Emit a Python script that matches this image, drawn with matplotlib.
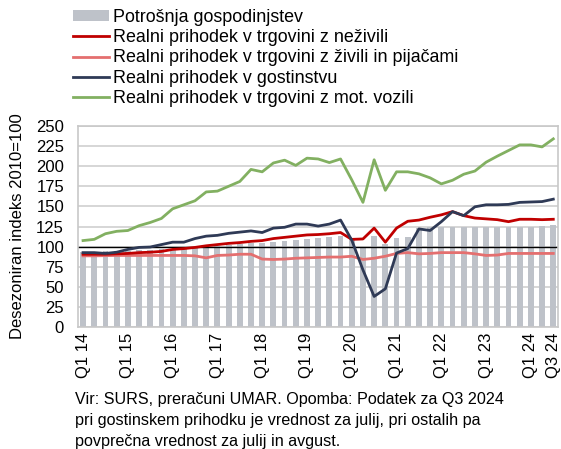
import matplotlib
matplotlib.use('Agg')
import matplotlib.pyplot as plt
from matplotlib.patches import Patch
import numpy as np

# ---- data (quarterly, Q1 2014 - Q3 2024) ----
quarters = ['Q1 14', 'Q2 14', 'Q3 14', 'Q4 14', 'Q1 15', 'Q2 15', 'Q3 15', 'Q4 15',
            'Q1 16', 'Q2 16', 'Q3 16', 'Q4 16', 'Q1 17', 'Q2 17', 'Q3 17', 'Q4 17',
            'Q1 18', 'Q2 18', 'Q3 18', 'Q4 18', 'Q1 19', 'Q2 19', 'Q3 19', 'Q4 19',
            'Q1 20', 'Q2 20', 'Q3 20', 'Q4 20', 'Q1 21', 'Q2 21', 'Q3 21', 'Q4 21',
            'Q1 22', 'Q2 22', 'Q3 22', 'Q4 22', 'Q1 23', 'Q2 23', 'Q3 23', 'Q4 23',
            'Q1 24', 'Q2 24', 'Q3 24']
shown_labels = ['Q1 14', 'Q1 15', 'Q1 16', 'Q1 17', 'Q1 18', 'Q1 19', 'Q1 20',
                'Q1 21', 'Q1 22', 'Q1 23', 'Q1 24', 'Q3 24']

consumption = [93.5, 93.5, 94, 94.5, 95, 95.5, 96, 96.5, 97.5, 98,
               99, 100, 101, 101.5, 103, 104, 105, 106, 107, 108,
               109.5, 111, 112.5, 113.5, 110, 98, 113.5, 103, 111, 112,
               123, 124, 124, 124, 124, 124, 124, 124, 124.5, 125,
               125, 126, 126.5]
nonfood = [90.5, 90.5, 90.5, 91, 91.5, 92.5, 93, 94, 96.5, 97.5,
           99, 101, 102.5, 104, 105, 106.5, 107.5, 110, 111.5, 113,
           114.5, 115, 116, 117.5, 109, 109.5, 123, 105.5, 123, 131.5,
           133, 136.5, 139.5, 143.5, 138.5, 135.5, 134.5, 133.5, 131, 134,
           134, 133.5, 134]
food = [88.5, 88.5, 88.75, 89, 89, 89, 89, 89, 89, 89,
        88.5, 86, 89, 89.5, 90.5, 90.5, 84.5, 84, 84.5, 85.5,
        86, 86.5, 87, 87, 88, 84, 85.5, 88, 91.5, 92.5,
        91, 91.5, 92.5, 92.5, 92.5, 91, 89, 89.5, 91.5, 91.5,
        91.5, 91.5, 91.5]
hospitality = [92.5, 92.5, 91.5, 93, 96.5, 99, 99.5, 102.5, 105.5, 105.5,
               110, 113, 114, 116.5, 118, 119.5, 117.5, 123, 124, 128,
               128, 125.5, 128, 133, 108, 71, 38, 47.5, 92, 97.5,
               122, 120, 131, 143.5, 138.5, 149.5, 152, 152, 152.5, 155,
               155.5, 156, 159]
motor = [107.5, 109, 116, 119, 120, 126, 130, 135, 147, 152,
         157, 168, 169, 175, 181, 196, 193, 204, 207.5, 201,
         210, 209, 204.5, 209, 183, 155, 208, 170, 193, 193,
         190.5, 185.5, 178, 182.5, 190, 194, 205, 212.5, 219.5, 226.5,
         226.5, 224, 234]

labels = ['Potrošnja gospodinjstev',
          'Realni prihodek v trgovini z neživili',
          'Realni prihodek v trgovini z živili in pijačami',
          'Realni prihodek v gostinstvu',
          'Realni prihodek v trgovini z mot. vozili']

c_bar = '#BEC2C9'
c_nonfood = '#C00000'
c_food = '#E46F6F'
c_hosp = '#2F3A56'
c_motor = '#82B061'

W, H = 561, 449
fig = plt.figure(figsize=(W / 100, H / 100), dpi=100)
ax_l, ax_r, ax_t, ax_b = 78, 558, 126, 327
ax = fig.add_axes([ax_l / W, 1 - ax_b / H, (ax_r - ax_l) / W, (ax_b - ax_t) / H])

x = np.arange(len(quarters))
bars = ax.bar(x, consumption, width=0.52, color=c_bar, zorder=2)
lw = 2.0
l1, = ax.plot(x, nonfood, color=c_nonfood, lw=lw, zorder=4, solid_joinstyle='round')
l2, = ax.plot(x, food, color=c_food, lw=lw, zorder=3, solid_joinstyle='round')
l3, = ax.plot(x, hospitality, color=c_hosp, lw=lw, zorder=5, solid_joinstyle='round')
l4, = ax.plot(x, motor, color=c_motor, lw=lw, zorder=3, solid_joinstyle='round')

ax.axhline(100, color='black', lw=1.0, zorder=2.5)

ax.set_xlim(-0.45, len(quarters) - 1 + 0.42)
ax.set_ylim(0, 250)
ax.set_yticks(np.arange(0, 251, 25))
ax.yaxis.grid(True, color='#D3D3D3', lw=1.3, zorder=0)
ax.set_axisbelow(True)

tick_pos = [quarters.index(q) for q in shown_labels]
ax.set_xticks(tick_pos)
ax.set_xticklabels(shown_labels, rotation=90, fontsize=12, family='Liberation Sans')
for t in ax.get_yticklabels():
    t.set_fontsize(12)
    t.set_family('Liberation Sans')
ax.tick_params(axis='both', length=0, pad=4)
ax.tick_params(axis='y', pad=10)
for s in ax.spines.values():
    s.set_color('#C8C8C8')
    s.set_linewidth(1.2)

ax.set_ylabel('Desezoniran indeks 2010=100', fontsize=12, family='Liberation Sans', labelpad=8)

handles = [Patch(facecolor=c_bar, edgecolor='none'), l1, l2, l3, l4]
leg = fig.legend(handles, labels, loc='upper left', bbox_to_anchor=(73 / W, 1 - 9 / H),
                 frameon=False, prop={'family': 'Liberation Sans', 'size': 12.9},
                 handlelength=2.0, handleheight=0.55, handletextpad=0.22,
                 labelspacing=0.18, borderpad=0, borderaxespad=0)

note = ('Vir: SURS, preračuni UMAR. Opomba: Podatek za Q3 2024\n'
        'pri gostinskem prihodku je vrednost za julij, pri ostalih pa\n'
        'povprečna vrednost za julij in avgust.')
fig.text(75 / W, 1 - 392 / H, note, ha='left', va='top', fontsize=11.6,
         family='Liberation Sans', linespacing=1.5)

fig.savefig('out.png', dpi=100)
